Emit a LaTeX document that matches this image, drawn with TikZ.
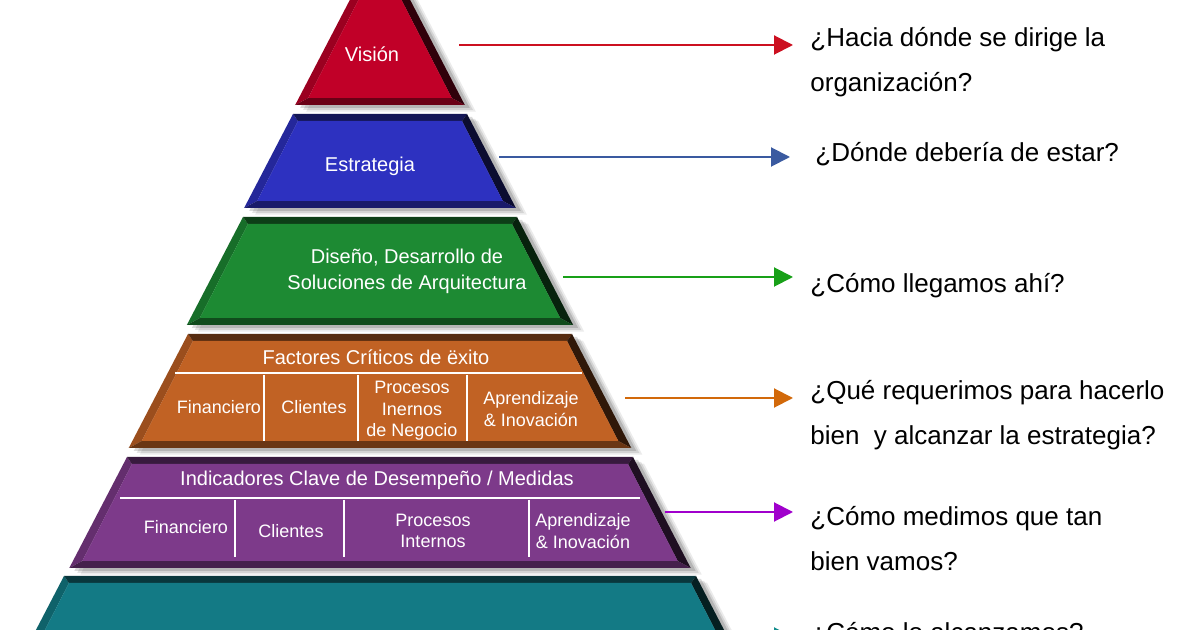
\documentclass[tikz,border=0pt]{standalone}
\usepackage{fontspec}
\setmainfont{Liberation Sans}
\usetikzlibrary{arrows.meta}

\definecolor{visionred}{HTML}{C10028}
\definecolor{estrategiablue}{HTML}{2D31C0}
\definecolor{disenogreen}{HTML}{1D8A33}
\definecolor{factororange}{HTML}{C16224}
\definecolor{kpipurple}{HTML}{7D3A8A}
\definecolor{baseteal}{HTML}{137A85}
\definecolor{arrowred}{HTML}{CC1020}
\definecolor{arrowblue}{HTML}{3A5AA0}
\definecolor{arrowgreen}{HTML}{18A018}
\definecolor{arroworange}{HTML}{D2690A}
\definecolor{arrowpurple}{HTML}{A000CC}
\definecolor{arrowteal}{HTML}{128C8C}

\tikzset{
  pyrtext/.style={white, font=\fontsize{10}{13}\selectfont, align=center, inner sep=0pt},
  celltext/.style={white, font=\fontsize{9}{10.7}\selectfont, align=center, inner sep=0pt},
  question/.style={black, font=\fontsize{13}{22.5}\selectfont, align=left, anchor=base west, inner sep=0pt},
  pointer/.style={line width=1pt, -{Triangle[length=9.5pt,width=9.5pt]}, shorten >=8.5pt},
  divider/.style={white, line width=1pt},
}

% one bevelled slice of the pyramid: name, top, bottom, half width at top, colour
\newcommand\pyrlayer[5]{%
  \pgfmathsetmacro\hbot{#4+0.52*(#3-#2)}
  \foreach \s/\o in {11/.08,8/.10,5/.14}
    \fill[black, opacity=\o] (380-#4+\s,#2+\s*.6) -- (380+#4+\s,#2+\s*.6) -- (380+\hbot+\s,#3+\s*.6) -- (380-\hbot+\s,#3+\s*.6) -- cycle;
  \coordinate (#1 tl) at (380-#4,#2);
  \coordinate (#1 tr) at (380+#4,#2);
  \coordinate (#1 br) at (380+\hbot,#3);
  \coordinate (#1 bl) at (380-\hbot,#3);
  \coordinate (#1 itl) at (380-#4+5,#2+7);
  \coordinate (#1 itr) at (380+#4-5,#2+7);
  \coordinate (#1 ibr) at (380+\hbot-13,#3-7);
  \coordinate (#1 ibl) at (380-\hbot+13,#3-7);
  \fill[#5!80!black] (#1 tl) -- (#1 itl) -- (#1 ibl) -- (#1 bl) -- cycle;
  \fill[#5!45!black] (#1 tl) -- (#1 tr) -- (#1 itr) -- (#1 itl) -- cycle;
  \fill[#5!25!black] (#1 tr) -- (#1 br) -- (#1 ibr) -- (#1 itr) -- cycle;
  \fill[#5!55!black] (#1 bl) -- (#1 ibl) -- (#1 ibr) -- (#1 br) -- cycle;
  \fill[#5] (#1 itl) -- (#1 itr) -- (#1 ibr) -- (#1 ibl) -- cycle;
}

\begin{document}
\begin{tikzpicture}[x=0.5pt,y=-0.5pt]
\useasboundingbox (0,0) rectangle (1200,630);
\clip (0,0) rectangle (1200,630);
\fill[white] (0,0) rectangle (1200,630);

\pyrlayer{vision}{-10}{105}{25}{visionred}
\pyrlayer{estrategia}{114}{208}{87}{estrategiablue}
\pyrlayer{diseno}{217}{325}{137}{disenogreen}
\pyrlayer{factores}{334}{448}{192}{factororange}
\pyrlayer{indicadores}{457}{568}{253}{kpipurple}
\pyrlayer{alcance}{576}{700}{316}{baseteal}

\node[pyrtext] (tvision) at (372,54) {Visión};
\node[pyrtext] (testrategia) at (370,166) {Estrategia};
\node[pyrtext] (tdiseno) at (407,271) {Diseño, Desarrollo de\\Soluciones de Arquitectura};

\node[pyrtext] (tfactores) at (376,357) {Factores Críticos de ëxito};
\draw[divider] (175,373) -- (582,373);
\foreach \x in {264,358,467} \draw[divider] (\x,375) -- (\x,441);
\node[celltext] (ffin) at (219,407) {Financiero};
\node[celltext] (fcli) at (314,407) {Clientes};
\node[celltext] (fpro) at (412,411) {Procesos\\Inernos\\de Negocio};
\node[celltext] (fapr) at (531,409) {Aprendizaje\\\& Inovación};

\node[pyrtext] (tindicadores) at (377,480) {Indicadores Clave de Desempeño / Medidas};
\draw[divider] (120,498) -- (640,498);
\foreach \x in {235,344,529} \draw[divider] (\x,500) -- (\x,557);
\node[celltext] (ifin) at (186,527) {Financiero};
\node[celltext] (icli) at (291,531) {Clientes};
\node[celltext] (ipro) at (433,531) {Procesos\\Internos};
\node[celltext] (iapr) at (583,531) {Aprendizaje\\\& Inovación};

\node[question] (qvision) at (810,92) {¿Hacia dónde se dirige la\\organización?};
\node[question] (qestrategia) at (815,162) {¿Dónde debería de estar?};
\node[question] (qdiseno) at (810,293) {¿Cómo llegamos ahí?};
\node[question] (qfactores) at (810,445) {¿Qué requerimos para hacerlo\\bien\ \ y alcanzar la estrategia?};
\node[question] (qindicadores) at (810,571) {¿Cómo medimos que tan\\bien vamos?};
\node[question] (qalcance) at (810,641) {¿Cómo lo alcanzamos?};

\coordinate (avision) at (459,45);
\coordinate (aestrategia) at (499,157);
\coordinate (adiseno) at (563,277);
\coordinate (afactores) at (625,398);
\coordinate (aindicadores) at (665,512);
\coordinate (aalcance) at (735,637);

\foreach \n/\c in {vision/arrowred,diseno/arrowgreen,factores/arroworange,indicadores/arrowpurple,alcance/arrowteal}
  \draw[pointer,\c] (a\n) -- (a\n -| q\n.west);
\draw[pointer,arrowblue,shorten >=12.5pt] (aestrategia) -- (aestrategia -| qestrategia.west);
\end{tikzpicture}
\end{document}
